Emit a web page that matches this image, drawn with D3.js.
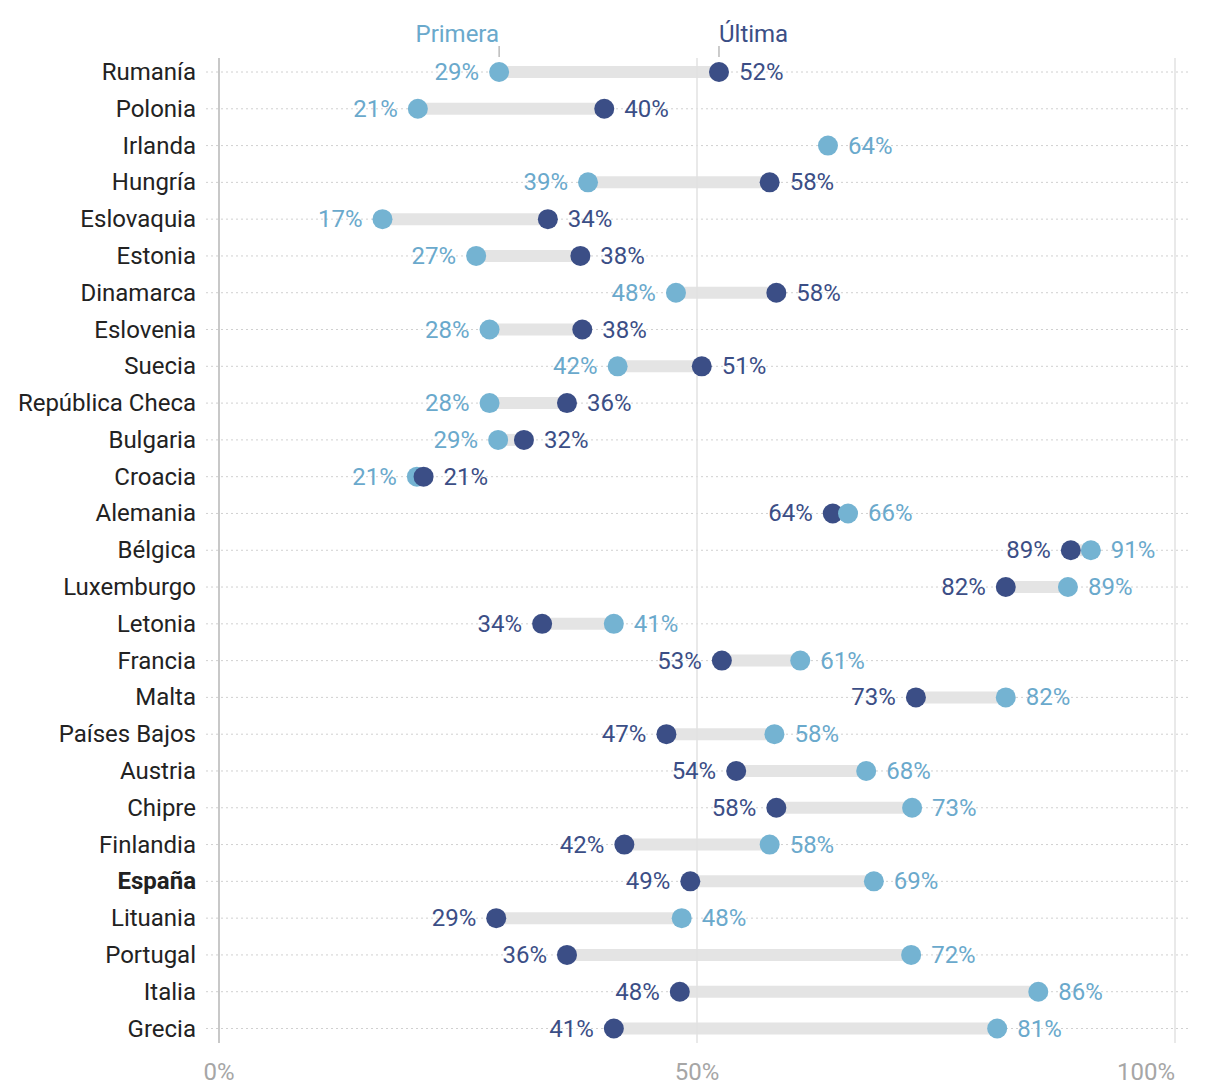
<!DOCTYPE html>
<html>
<head>
<meta charset="utf-8">
<script src="https://cdn.jsdelivr.net/npm/d3@7"></script>
<style>
  body { margin: 0; background: #fff; }
  svg { font-family: Roboto, "Noto Sans", sans-serif; }
</style>
</head>
<body>
<svg id="chart" width="1220" height="1090"></svg>
<script>
const countries = ["Rumanía","Polonia","Irlanda","Hungría","Eslovaquia","Estonia","Dinamarca","Eslovenia","Suecia","República Checa","Bulgaria","Croacia","Alemania","Bélgica","Luxemburgo","Letonia","Francia","Malta","Países Bajos","Austria","Chipre","Finlandia","España","Lituania","Portugal","Italia","Grecia"];
const primera = [29.3,20.8,63.7,38.6,17.1,26.9,47.8,28.3,41.7,28.3,29.2,20.7,65.8,91.2,88.8,41.3,60.8,82.3,58.1,67.7,72.5,57.6,68.5,48.4,72.4,85.7,81.4];
const ultima  = [52.3,40.3,null,57.6,34.4,37.8,58.3,38.0,50.5,36.4,31.9,21.4,64.2,89.1,82.3,33.8,52.6,72.9,46.8,54.1,58.3,42.4,49.3,29.0,36.4,48.2,41.3];
const xTicks = [0, 50, 100];
const highlight = "España";

const colFirst = "#74b3d2", colLast = "#3b4e86";
const labFirst = "#6aa9cc", labLast = "#3b4e86";
const FS = 24;

const svg = d3.select("#chart");
const x = d3.scaleLinear().domain([0, 100]).range([219, 1175]);
const y = d3.scalePoint().domain(countries).range([72, 1028.5]);

const data = countries.map((c, i) => ({c, f: primera[i], l: ultima[i]}));

// horizontal dotted gridlines
svg.append("g").selectAll("line").data(countries).join("line")
  .attr("x1", 206).attr("x2", 1188)
  .attr("y1", d => y(d)).attr("y2", d => y(d))
  .attr("stroke", "#d0d0d0").attr("stroke-width", 1).attr("stroke-dasharray", "2,3");

// bars
svg.append("g").selectAll("line").data(data.filter(d => d.l != null)).join("line")
  .attr("x1", d => x(d.f)).attr("x2", d => x(d.l))
  .attr("y1", d => y(d.c)).attr("y2", d => y(d.c))
  .attr("stroke", "#e4e4e4").attr("stroke-width", 12);

// vertical lines
svg.append("g").selectAll("line").data(xTicks).join("line")
  .attr("x1", d => x(d)).attr("x2", d => x(d))
  .attr("y1", 58).attr("y2", 1043)
  .attr("stroke", d => d === 0 ? "#c8c8c8" : "#e2e2e2")
  .attr("stroke-width", d => d === 0 ? 2 : 1.5);

// x tick labels
svg.append("g").selectAll("text").data(xTicks).join("text")
  .attr("x", d => x(d)).attr("y", 1072)
  .attr("text-anchor", (d, i) => i === xTicks.length - 1 ? "end" : "middle")
  .attr("dominant-baseline", "central")
  .attr("fill", "#a6a6a6").attr("font-size", FS)
  .text(d => d + "%");

// country labels
svg.append("g").selectAll("text").data(countries).join("text")
  .attr("x", 196).attr("y", d => y(d))
  .attr("text-anchor", "end").attr("dominant-baseline", "central")
  .attr("fill", "#222").attr("font-size", FS)
  .attr("font-weight", d => d === highlight ? "bold" : "normal")
  .text(d => d);

// dots: draw left dot first, right dot on top
const dots = [];
data.forEach(d => {
  const pts = [{v: d.f, col: colFirst, lab: labFirst, c: d.c}];
  if (d.l != null) pts.push({v: d.l, col: colLast, lab: labLast, c: d.c});
  pts.sort((a, b) => a.v - b.v);
  if (pts.length === 1) { pts[0].side = 1; }
  else { pts[0].side = -1; pts[1].side = 1; }
  pts.forEach(p => dots.push(p));
});

svg.append("g").selectAll("circle").data(dots).join("circle")
  .attr("cx", d => x(d.v)).attr("cy", d => y(d.c)).attr("r", 10)
  .attr("fill", d => d.col);

svg.append("g").selectAll("text").data(dots).join("text")
  .attr("x", d => x(d.v) + d.side * 20).attr("y", d => y(d.c))
  .attr("text-anchor", d => d.side < 0 ? "end" : "start")
  .attr("dominant-baseline", "central")
  .attr("fill", d => d.lab).attr("font-size", FS)
  .text(d => Math.round(d.v) + "%");

// legend at first row
const r0 = data[0];
svg.append("line").attr("x1", x(r0.f)).attr("x2", x(r0.f)).attr("y1", 46).attr("y2", 57)
  .attr("stroke", "#999").attr("stroke-width", 1);
svg.append("line").attr("x1", x(r0.l)).attr("x2", x(r0.l)).attr("y1", 46).attr("y2", 57)
  .attr("stroke", "#999").attr("stroke-width", 1);
svg.append("text").attr("x", x(r0.f)).attr("y", 34)
  .attr("text-anchor", "end").attr("dominant-baseline", "central")
  .attr("fill", labFirst).attr("font-size", FS).text("Primera");
svg.append("text").attr("x", x(r0.l)).attr("y", 34)
  .attr("text-anchor", "start").attr("dominant-baseline", "central")
  .attr("fill", labLast).attr("font-size", FS).text("Última");
</script>
</body>
</html>
